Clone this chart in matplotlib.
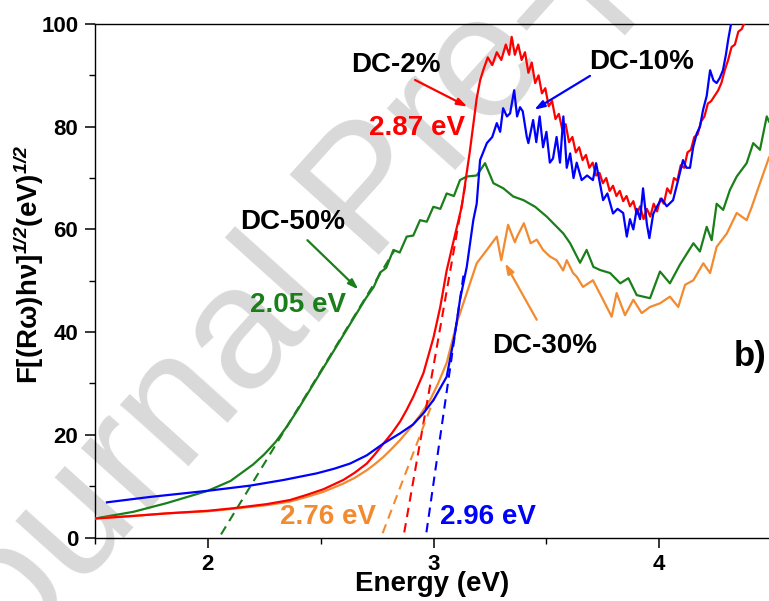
import numpy as np
import matplotlib
matplotlib.use("Agg")
import matplotlib.pyplot as plt
from matplotlib.ticker import MultipleLocator

plt.rcParams['font.family'] = ['Liberation Sans', 'DejaVu Sans']
plt.rcParams['font.weight'] = 'bold'
plt.rcParams['mathtext.fontset'] = 'custom'
plt.rcParams['mathtext.rm'] = 'Liberation Sans:italic'
plt.rcParams['mathtext.it'] = 'Liberation Sans:italic'
plt.rcParams['mathtext.bf'] = 'Liberation Sans:bold'

# ---------------- data ----------------
dc2_x = [1.5, 1.67, 1.818, 2.0, 2.113, 2.261, 2.364, 2.438, 2.512, 2.6, 2.65, 2.704, 2.74, 2.778,
         2.815, 2.852, 2.88, 2.91, 2.955, 3.0, 3.03, 3.058, 3.09, 3.125, 3.16,
         3.191, 3.206, 3.22, 3.24, 3.26, 3.28, 3.30, 3.32, 3.335, 3.346, 3.36, 3.375, 3.39, 3.405,
         3.42, 3.435, 3.45, 3.465, 3.48, 3.495, 3.51, 3.525, 3.54, 3.555, 3.57, 3.585, 3.60, 3.615,
         3.63, 3.645, 3.66, 3.675, 3.69, 3.705, 3.72, 3.735, 3.75, 3.765, 3.78, 3.795, 3.81, 3.825,
         3.84, 3.855, 3.87, 3.885, 3.90, 3.915, 3.93, 3.945, 3.96, 3.975, 3.99, 4.005, 4.02, 4.035,
         4.05, 4.065, 4.08, 4.095, 4.11, 4.125, 4.14, 4.155, 4.17, 4.185, 4.20, 4.215, 4.23, 4.245,
         4.26, 4.275, 4.29, 4.305, 4.32, 4.335, 4.35, 4.365, 4.38, 4.40, 4.42, 4.44]
dc2_y = [3.7, 4.2, 4.7, 5.2, 5.7, 6.5, 7.3, 8.3, 9.4, 11.2, 12.6, 14.4, 16.2, 18.3,
         20.3, 22.6, 24.8, 27.4, 32.0, 39.0, 45.0, 52.0, 58.0, 64.5, 75.0,
         85.5, 89.0, 91.0, 93.5, 92.0, 94.5, 93.0, 96.0, 94.0, 97.5, 94.0, 96.0, 93.0, 94.5,
         90.5, 92.5, 88.5, 90.0, 86.5, 87.5, 84.0, 85.0, 81.5, 82.5, 79.5, 80.5, 77.0, 78.0,
         75.0, 76.0, 73.5, 74.5, 72.0, 73.0, 70.5, 71.0, 69.0, 70.0, 67.5, 68.5, 66.5, 67.5,
         65.5, 66.5, 64.5, 65.5, 63.0, 64.5, 62.0, 64.0, 62.5, 65.0, 63.5, 66.0, 65.0, 68.0,
         67.0, 70.0, 69.5, 72.5, 72.0, 75.0, 75.5, 78.0, 78.5, 81.0, 82.0, 84.5, 85.0, 86.0,
         87.0, 88.5, 91.0, 93.0, 95.5, 96.0, 98.5, 99.0, 100.5, 101.0, 102.0, 104.0]

dc10_x = [1.553, 1.744, 2.0, 2.187, 2.335, 2.483, 2.56, 2.63, 2.704, 2.778, 2.852, 2.909, 2.955,
          3.0, 3.058, 3.095, 3.117,
          3.147, 3.176, 3.191, 3.206, 3.236, 3.26, 3.28, 3.295, 3.308, 3.325, 3.339, 3.357, 3.37,
          3.383, 3.395, 3.413, 3.42, 3.441, 3.455, 3.47, 3.485, 3.50, 3.515, 3.529, 3.545, 3.56,
          3.575, 3.59, 3.605, 3.62, 3.634, 3.656, 3.68, 3.706, 3.72, 3.751, 3.77, 3.795, 3.815,
          3.84, 3.856, 3.87, 3.885, 3.90, 3.915, 3.928, 3.945, 3.956, 3.973, 3.989, 4.01, 4.033,
          4.061, 4.08, 4.105, 4.12, 4.136, 4.15, 4.166, 4.18, 4.194, 4.21, 4.225, 4.24, 4.254,
          4.268, 4.282, 4.295, 4.305, 4.321, 4.34]
dc10_y = [6.85, 7.9, 9.1, 10.1, 11.2, 12.5, 13.4, 14.4, 16.0, 18.3, 20.3, 22.0, 24.2,
          26.8, 31.3, 39.8, 46.3,
          52.7, 61.8, 65.0, 73.5, 76.8, 78.0, 80.7, 79.0, 83.6, 82.0, 82.6, 87.1, 82.0,
          83.8, 83.0, 78.0, 76.8, 81.3, 77.0, 82.0, 76.0, 79.0, 73.0, 73.8, 78.0, 73.0,
          82.0, 72.0, 74.8, 70.0, 73.0, 69.6, 70.5, 69.6, 72.9, 65.7, 67.0, 63.1, 64.0,
          63.2, 58.6, 62.0, 60.0, 64.0, 62.0, 68.0, 61.0, 58.3, 63.0, 64.4, 66.0, 64.5,
          65.7, 69.0, 73.5, 72.0, 72.0, 76.0, 78.7, 80.0, 83.3, 86.0, 91.0, 89.0, 88.5,
          89.5, 91.0, 94.0, 96.9, 100.8, 104.0]

dc30_x = [1.5, 1.67, 1.818, 2.0, 2.113, 2.261, 2.364, 2.438, 2.512, 2.6, 2.65, 2.704, 2.74, 2.778,
          2.815, 2.852, 2.9, 2.94, 2.985, 3.02, 3.058, 3.103, 3.147, 3.191,
          3.236, 3.28, 3.30, 3.33, 3.36, 3.37, 3.40, 3.43, 3.457, 3.485, 3.516, 3.545, 3.574,
          3.59, 3.618, 3.634, 3.662, 3.706, 3.751, 3.789, 3.811, 3.848, 3.885, 3.922, 3.959,
          4.003, 4.047, 4.084, 4.114, 4.151, 4.195, 4.225, 4.254, 4.299, 4.343, 4.387, 4.409,
          4.446, 4.486]
dc30_y = [3.7, 4.2, 4.7, 5.1, 5.6, 6.3, 7.0, 7.9, 8.9, 10.5, 11.6, 13.1, 14.3, 15.7,
          17.3, 19.0, 21.5, 23.8, 26.8, 30.0, 34.0, 41.8, 47.6, 53.4,
          56.0, 58.6, 54.0, 60.9, 57.5, 58.6, 61.2, 57.3, 58.0, 56.0, 54.7, 54.0, 52.0,
          54.0, 51.5, 50.8, 48.8, 50.1, 46.3, 43.0, 47.6, 43.3, 46.3, 43.7, 44.9,
          45.6, 46.9, 44.9, 49.2, 50.1, 53.4, 51.5, 56.6, 59.2, 63.2, 61.8, 64.3,
          69.0, 74.0]

dc50_x = [1.5, 1.67, 1.818, 2.0, 2.1, 2.2, 2.25, 2.3, 2.35, 2.4, 2.45, 2.5, 2.55, 2.6, 2.65, 2.7,
          2.735, 2.763, 2.79, 2.822,
          2.85, 2.881, 2.91, 2.94, 2.97, 2.999, 3.03, 3.058, 3.09, 3.117, 3.147, 3.191, 3.228,
          3.265, 3.309, 3.353, 3.398, 3.45, 3.501, 3.575, 3.605, 3.649, 3.678, 3.708, 3.737,
          3.782, 3.827, 3.863, 3.90, 3.959, 4.003, 4.047, 4.091, 4.151, 4.18, 4.21, 4.232,
          4.254, 4.283, 4.313, 4.343, 4.387, 4.416, 4.446, 4.476, 4.486]
dc50_y = [3.7, 5.0, 6.7, 9.1, 11.0, 14.2, 16.2, 18.6, 21.6, 25.0, 28.6, 32.2, 35.8, 39.4, 43.0, 46.6,
          48.8, 51.6, 52.5, 56.0,
          55.5, 58.6, 58.8, 61.8, 61.5, 64.4, 64.0, 67.0, 66.5, 69.6, 70.3, 70.5, 72.9,
          69.0, 68.0, 66.4, 65.7, 64.4, 62.5, 59.2, 57.3, 53.5, 56.0, 52.7, 52.1,
          51.5, 49.5, 50.5, 47.2, 46.6, 51.8, 49.5, 53.1, 57.3, 55.7, 60.5, 57.9,
          65.0, 63.8, 67.7, 70.3, 72.9, 76.8, 75.5, 82.0, 81.0]

# linear extrapolations (band-gap tangents)
tangent_intercepts = [2.05, 2.866, 2.767, 2.965]   # DC-50, DC-2, DC-30, DC-10 (eV)
tangent_slopes = [72.0, 250.0, 115.0, 305.0]
tangent_ymax = [56.0, 70.0, 27.0, 52.0]
tangent_colors = ['#1a7f1a', '#ff0000', '#f28a30', '#0000ff']

gap_labels = ['2.05 eV', '2.87 eV', '2.76 eV', '2.96 eV']
series_labels = ['DC-2%', 'DC-10%', 'DC-30%', 'DC-50%']

red = '#ff0000'
blue = '#0000ff'
orange = '#f28a30'
green = '#1a7f1a'

# ---------------- figure ----------------
fig = plt.figure(figsize=(7.69, 6.01), dpi=100)
ax = fig.add_axes([95/769, 63.5/601, 674/769, 513.5/601])
ax.patch.set_alpha(0)

# watermark
fig.text(-47/769, 1 - 728/601, 'Journal Pre-proof', rotation=48, rotation_mode='anchor',
         ha='left', va='baseline', fontsize=126, fontweight='normal', color='#d9d9d9',
         family='Liberation Sans', zorder=-5)

lw = 1.6
ax.plot(dc50_x, dc50_y, color=green, lw=lw, zorder=3)
ax.plot(dc30_x, dc30_y, color=orange, lw=lw, zorder=3)
ax.plot(dc2_x, dc2_y, color=red, lw=lw, zorder=4)
ax.plot(dc10_x, dc10_y, color=blue, lw=lw, zorder=5)

for x0, s, ym, c in zip(tangent_intercepts, tangent_slopes, tangent_ymax, tangent_colors):
    yy = np.array([-2.0, ym])
    xx = x0 + yy / s
    ax.plot(xx, yy, color=c, lw=1.5, ls=(0, (4.5, 3)), zorder=3)

ax.set_xlim(1.5, 4.486)
ax.set_ylim(0, 100)

ax.xaxis.set_major_locator(MultipleLocator(1))
ax.xaxis.set_minor_locator(MultipleLocator(0.5))
ax.yaxis.set_major_locator(MultipleLocator(20))
ax.yaxis.set_minor_locator(MultipleLocator(10))
ax.tick_params(which='major', direction='out', length=7, width=1.1, labelsize=16, pad=5)
ax.tick_params(which='minor', direction='out', length=4, width=1.0)
for lab in ax.get_xticklabels() + ax.get_yticklabels():
    lab.set_fontweight('bold')
ax.spines['right'].set_visible(False)
for sp in ['left', 'bottom', 'top']:
    ax.spines[sp].set_linewidth(1.0)

ax.set_xlabel('Energy (eV)', fontsize=20, fontweight='bold')
ax.xaxis.set_label_coords(0.5, -0.066)
ax.set_ylabel(r'F[(R$\mathbf{\omega}$)hν]$^{1/2}$(eV)$^{1/2}$', fontsize=20, fontweight='bold')
ax.yaxis.set_label_coords(-0.072, 0.531)

# annotations
tfs = 20
ax.text(2.834, 92.0, series_labels[0], fontsize=tfs, fontweight='bold', ha='center', va='center', zorder=6)
ax.text(3.923, 92.6, series_labels[1], fontsize=tfs, fontweight='bold', ha='center', va='center', zorder=6)
ax.text(3.494, 37.2, series_labels[2], fontsize=tfs, fontweight='bold', ha='center', va='center', zorder=6)
ax.text(2.376, 61.5, series_labels[3], fontsize=tfs, fontweight='bold', ha='center', va='center', zorder=6)

ax.text(2.927, 79.7, gap_labels[1], fontsize=tfs, fontweight='bold', color=red, ha='center', va='center', zorder=6)
ax.text(2.399, 45.3, gap_labels[0], fontsize=tfs, fontweight='bold', color=green, ha='center', va='center', zorder=6)
ax.text(2.533, 4.05, gap_labels[2], fontsize=tfs, fontweight='bold', color=orange, ha='center', va='center', zorder=6)
ax.text(3.241, 4.05, gap_labels[3], fontsize=tfs, fontweight='bold', color=blue, ha='center', va='center', zorder=6)

ax.text(4.402, 35.3, 'b)', fontsize=25, fontweight='bold', ha='center', va='center', zorder=6)

def arrow(tail, head, c):
    ax.annotate('', xy=head, xytext=tail,
                arrowprops=dict(arrowstyle='-|>,head_length=0.6,head_width=0.2', color=c, lw=1.6,
                                shrinkA=0, shrinkB=0), zorder=6)

arrow((2.918, 89.1), (3.15, 83.9), red)
arrow((3.693, 89.9), (3.446, 83.3), blue)
arrow((2.441, 57.9), (2.667, 48.3), green)
arrow((3.457, 42.4), (3.317, 53.4), orange)

fig.savefig('out.png', dpi=100)
